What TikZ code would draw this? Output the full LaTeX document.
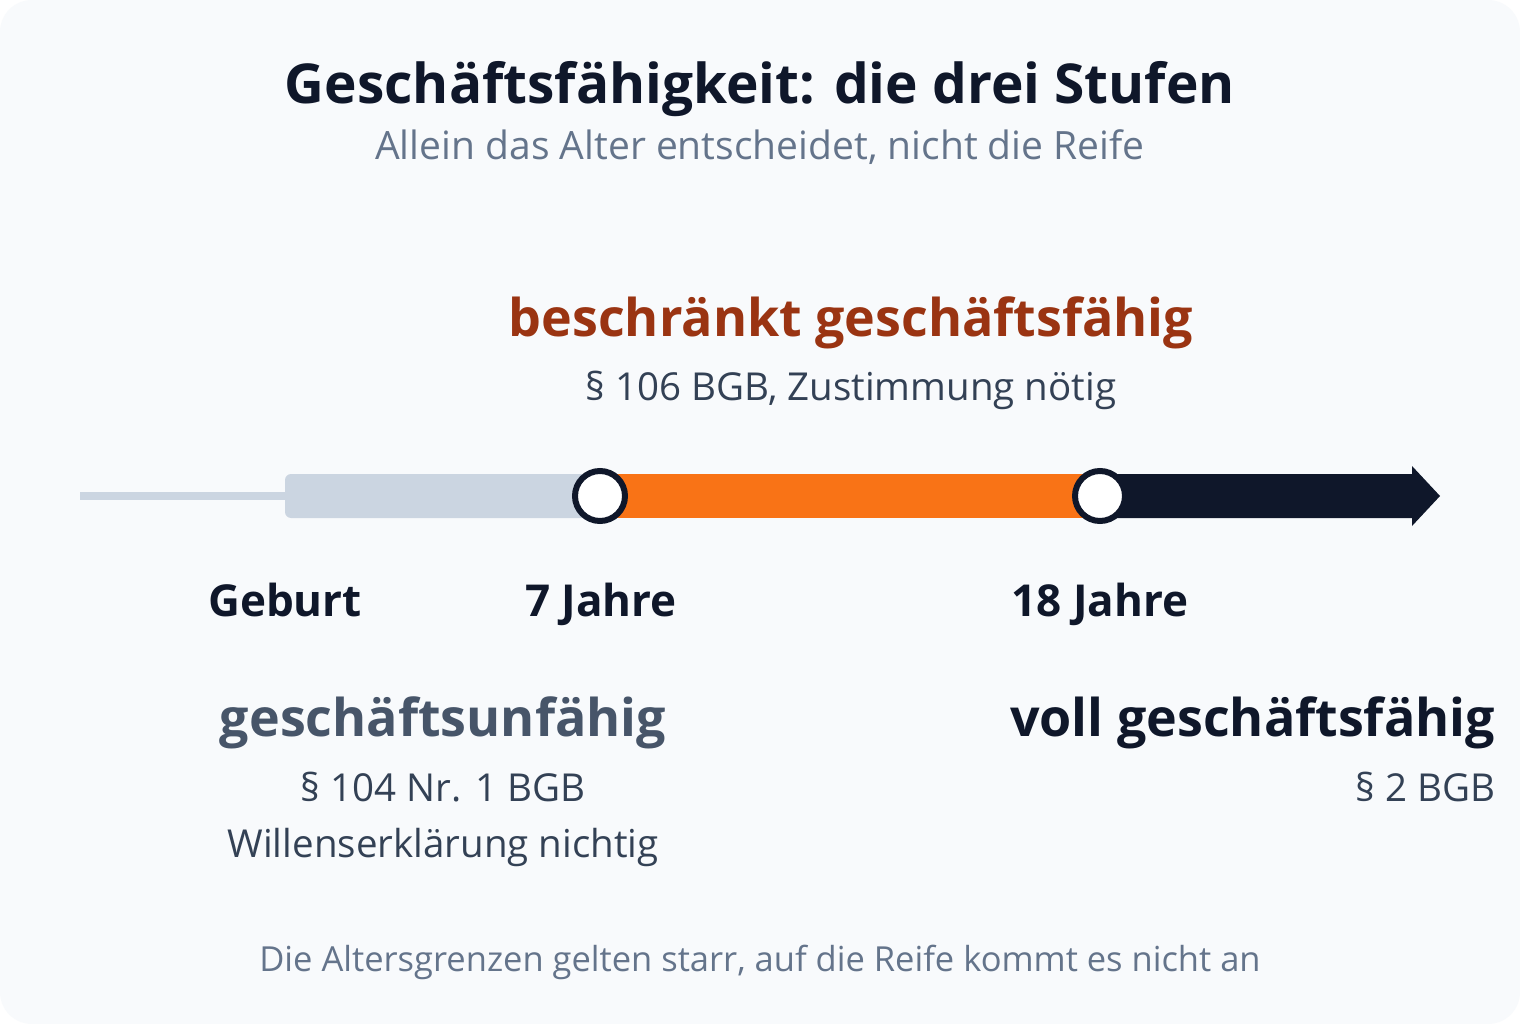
\documentclass[tikz,border=0pt]{standalone}
\usepackage{fontspec}
\setmainfont{Open Sans}
\definecolor{bgc}{HTML}{F8FAFC}
\definecolor{dark}{HTML}{0F172A}
\definecolor{slate}{HTML}{64748B}
\definecolor{slatedk}{HTML}{334155}
\definecolor{slatemd}{HTML}{475569}
\definecolor{lightbar}{HTML}{CBD5E1}
\definecolor{orangebar}{HTML}{F97316}
\definecolor{rust}{HTML}{9A3412}
\tikzset{
  txt/.style={inner sep=0pt, outer sep=0pt, anchor=base},
  body/.style={txt, font=\fontsize{38.5}{46}\selectfont, text=slatedk},
  head/.style={txt, font=\fontsize{52}{62}\selectfont\bfseries},
  age/.style={txt, font=\fontsize{44}{52}\selectfont\bfseries, text=dark},
  milestone/.style={circle, draw=dark, fill=white, line width=6pt, minimum size=50pt, inner sep=0pt},
}
\begin{document}
\begin{tikzpicture}[x=1pt,y=-1pt]
\useasboundingbox (0,0) rectangle (1520,1024);
\fill[white] (0,0) rectangle (1520,1024);
\fill[bgc, rounded corners=32pt] (0,0) rectangle (1520,1024);
% title
\node[txt, font=\fontsize{55}{64}\selectfont\bfseries, text=dark] (title) at (760,104) {Geschäftsfähigkeit: die drei Stufen};
\node[txt, font=\fontsize{39}{46}\selectfont, text=slate] (sub) at (760,160) {Allein das Alter entscheidet, nicht die Reife};
% timeline
\coordinate (lstart) at (80,496);
\coordinate (birth) at (285,496);
\draw[lightbar, line width=8pt] (lstart) -- (birth);
\fill[lightbar, rounded corners=6pt] (285,474) rectangle (620,518);
\fill[orangebar] (600,474) rectangle (1100,518);
\fill[dark] (1100,474) -- (1412,474) -- (1412,466) -- (1440,496) -- (1412,526) -- (1412,518) -- (1100,518) -- cycle;
\node[milestone] (m7) at (600,496) {};
\node[milestone] (m18) at (1100,496) {};
% upper labels
\node[head, text=rust] (besch) at (851,336) {beschränkt geschäftsfähig};
\node[body] (p106) at (851,400) {§ 106 BGB, Zustimmung nötig};
% age labels
\node[age] (geb) at (285,616) {Geburt};
\node[age] (j7) at (601,616) {7 Jahre};
\node[age] (j18) at (1100,616) {18 Jahre};
% lower labels
\node[head, text=slatemd] (unf) at (443,736) {geschäftsunfähig};
\node[body] (p104) at (443,801) {§ 104 Nr. 1 BGB};
\node[body] (nicht) at (443,857) {Willenserklärung nichtig};
\node[head, anchor=base east, text=dark] (voll) at (1495,736) {voll geschäftsfähig};
\node[body, anchor=base east] (p2) at (1495,801) {§ 2 BGB};
% footer
\node[txt, font=\fontsize{34.5}{40}\selectfont, text=slate] (foot) at (760,971) {Die Altersgrenzen gelten starr, auf die Reife kommt es nicht an};
\end{tikzpicture}
\end{document}
